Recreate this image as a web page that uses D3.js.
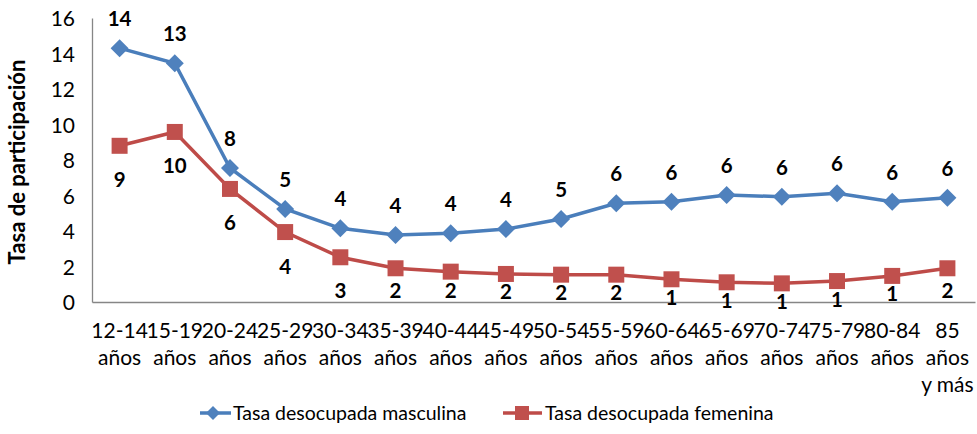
<!DOCTYPE html>
<meta charset="utf-8">
<style>
body { margin: 0; background: #fff; }
text { font-family: Lato, "Open Sans", sans-serif; fill: #000; }
.axis path { stroke: #868686; stroke-width: 1.3; }
.axis line { display: none; }
.lbl { font-weight: bold; font-size: 20.5px; }
</style>
<body>
<script src="https://cdn.jsdelivr.net/npm/d3@7"></script>
<script>
// age groups (x categories)
var categories = ["12-14 años", "15-19 años", "20-24 años", "25-29 años", "30-34 años",
  "35-39 años", "40-44 años", "45-49 años", "50-54 años", "55-59 años", "60-64 años",
  "65-69 años", "70-74 años", "75-79 años", "80-84 años", "85 años y más"];

var masculina = [14.3, 13.45, 7.55, 5.24, 4.15, 3.77, 3.87, 4.11, 4.68, 5.56, 5.65, 6.03, 5.93, 6.12, 5.65, 5.88];
var femenina  = [8.8, 9.58, 6.37, 3.94, 2.52, 1.9, 1.71, 1.58, 1.54, 1.54, 1.28, 1.11, 1.05, 1.18, 1.47, 1.9];

var yTicks = [0, 2, 4, 6, 8, 10, 12, 14, 16];

var seriesNames = ["Tasa desocupada masculina", "Tasa desocupada femenina"];
var lineColors = ["#4a7ebb", "#be4b48"];
var markColors = ["#4f81bd", "#c0504d"];

var W = 977, H = 434;
var margin = {top: 18, right: 2, bottom: 132, left: 92};
var width = W - margin.left - margin.right,
    height = H - margin.top - margin.bottom;

var svg = d3.select("body").append("svg")
    .attr("width", W).attr("height", H);
var g = svg.append("g")
    .attr("transform", "translate(" + margin.left + "," + margin.top + ")");

var x = d3.scaleBand().domain(categories).range([0, width]);
var y = d3.scaleLinear().domain([0, 16]).range([height, 0]);

// y axis
var yAxis = g.append("g").attr("class", "axis")
    .call(d3.axisLeft(y).tickValues(yTicks).tickSize(0).tickPadding(17));
yAxis.selectAll("text").style("font-size", "21px").attr("dy", "0.36em");

// x axis
var xAxis = g.append("g").attr("class", "axis")
    .attr("transform", "translate(0," + height + ")")
    .call(d3.axisBottom(x).tickSize(0).tickPadding(0));
xAxis.selectAll("text").remove();
xAxis.selectAll(".tick").each(function(d) {
  var t = d3.select(this).append("text")
      .attr("text-anchor", "middle")
      .style("font-size", "21px");
  var words = d.split(" "), lines = [], cur = "";
  var tmp = t.append("tspan");
  words.forEach(function(w) {
    var test = cur ? cur + " " + w : w;
    tmp.text(test);
    if (cur && tmp.node().getComputedTextLength() > 58) { lines.push(cur); cur = w; }
    else cur = test;
  });
  lines.push(cur);
  tmp.remove();
  lines.forEach(function(l, i) {
    t.append("tspan").attr("x", 0).attr("y", 36 + i * 27).text(l);
  });
});

// y axis title
svg.append("text")
    .attr("transform", "translate(25," + (margin.top + height / 2 + 2) + ") rotate(-90)")
    .attr("text-anchor", "middle")
    .style("font-size", "22px").style("font-weight", "bold")
    .text("Tasa de participación");

var line = d3.line()
    .x(function(d, i) { return x(categories[i]) + x.bandwidth() / 2; })
    .y(function(d) { return y(d); });

var diamond = "M0,-9L9,0L0,9L-9,0Z";
var square = "M-8,-8H8V8H-8Z";

// labels below the line get pushed up near the bottom of the plot
function belowY(v) {
  var py = y(v);
  return Math.min(py + 34, Math.max(height - 12, py + 18)) + 7.5;
}

[masculina, femenina].forEach(function(vals, s) {
  g.append("path")
      .datum(vals)
      .attr("fill", "none")
      .attr("stroke", lineColors[s])
      .attr("stroke-width", 3.5)
      .attr("d", line);

  g.selectAll(".m" + s)
      .data(vals)
    .enter().append("path")
      .attr("d", s === 0 ? diamond : square)
      .attr("fill", markColors[s])
      .attr("transform", function(d, i) {
        return "translate(" + (x(categories[i]) + x.bandwidth() / 2) + "," + y(d) + ")";
      });

  g.selectAll(".l" + s)
      .data(vals)
    .enter().append("text")
      .attr("class", "lbl")
      .attr("text-anchor", "middle")
      .attr("x", function(d, i) { return x(categories[i]) + x.bandwidth() / 2; })
      .attr("y", function(d) { return s === 0 ? y(d) - 22 : belowY(d); })
      .text(function(d) { return Math.round(d); });
});

// legend
var legX = [200, 503];
seriesNames.forEach(function(name, s) {
  var lg = svg.append("g").attr("transform", "translate(" + legX[s] + ",413)");
  lg.append("line").attr("x1", 0).attr("x2", s === 0 ? 31 : 39)
      .attr("stroke", lineColors[s]).attr("stroke-width", 3.5);
  lg.append("path")
      .attr("d", s === 0 ? "M0,-7L7,0L0,7L-7,0Z" : "M-7,-7H7V7H-7Z")
      .attr("fill", markColors[s])
      .attr("transform", "translate(" + (s === 0 ? 13 : 19) + ",0)");
  lg.append("text").attr("x", s === 0 ? 33 : 42).attr("y", 7)
      .style("font-size", "19.5px").text(name);
});
</script>
</body>
